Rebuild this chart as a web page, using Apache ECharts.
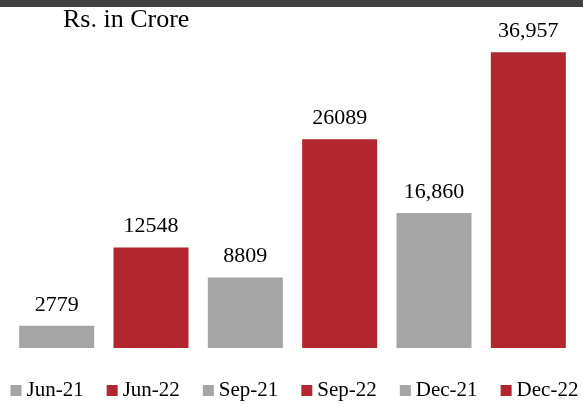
<!DOCTYPE html>
<html>
<head>
<meta charset="utf-8">
<title>Rs. in Crore</title>
<script src="https://cdn.jsdelivr.net/npm/echarts@6/dist/echarts.min.js"></script>
<style>
  html, body { margin: 0; padding: 0; background: #fff; }
  #main { width: 583px; height: 404px; }
</style>
</head>
<body>
<div id="main"></div>
<script>
// data
var periods = ['Jun-21', 'Jun-22', 'Sep-21', 'Sep-22', 'Dec-21', 'Dec-22'];
var values = [2779, 12548, 8809, 26089, 16860, 36957];
var labelTexts = ['2779', '12548', '8809', '26089', '16,860', '36,957'];
var colors = ['#A5A5A5', '#B2262F', '#A5A5A5', '#B2262F', '#A5A5A5', '#B2262F'];

var serif = '"Liberation Serif", "Times New Roman", serif';
var chart = echarts.init(document.getElementById('main'));

var series = periods.map(function (name, i) {
  var d = periods.map(function (p, j) { return j === i ? values[i] : null; });
  return {
    name: name,
    type: 'bar',
    stack: 'all',
    barWidth: 75,
    data: d,
    itemStyle: { color: colors[i] },
    label: {
      show: true,
      position: 'top',
      distance: 10,
      color: '#000',
      fontFamily: serif,
      fontSize: 22,
      formatter: function () { return labelTexts[i]; }
    }
  };
});

chart.setOption({
  animation: false,
  graphic: [{
    type: 'rect',
    left: 0, top: 0,
    shape: { width: 583, height: 7 },
    style: { fill: '#404040' }
  }],
  title: {
    text: 'Rs. in Crore',
    left: 58, top: 2,
    textStyle: { fontFamily: serif, fontSize: 26, fontWeight: 'normal', color: '#000' }
  },
  legend: {
    top: 380,
    left: 10.5,
    width: 575,
    padding: 0,
    itemWidth: 11,
    itemHeight: 11,
    itemGap: 23,
    icon: 'rect',
    textStyle: { fontFamily: serif, fontSize: 21, color: '#000' },
    data: periods
  },
  grid: { left: 9.5, right: 7.5, top: 28, bottom: 56 },
  xAxis: {
    type: 'category',
    data: periods,
    axisLine: { show: false },
    axisTick: { show: false },
    axisLabel: { show: false }
  },
  yAxis: {
    type: 'value',
    min: 0, max: 40000,
    show: false,
    splitLine: { show: false }
  },
  series: series
});
</script>
</body>
</html>
